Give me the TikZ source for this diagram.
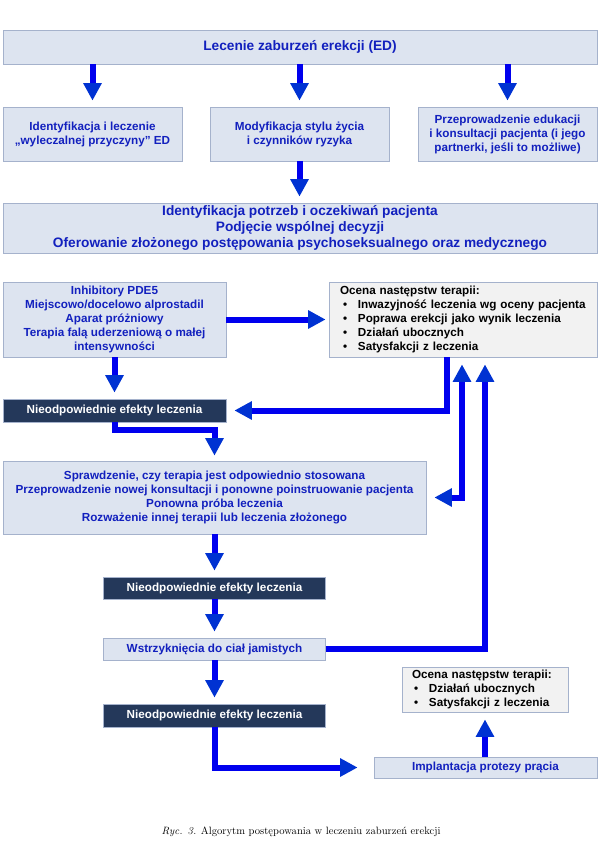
\documentclass[tikz,border=0pt]{standalone}
\usepackage{fontspec}
\setsansfont{Liberation Sans}
\usetikzlibrary{arrows.meta}
\definecolor{boxfill}{RGB}{221,228,240}
\definecolor{boxdraw}{RGB}{165,178,204}
\definecolor{txtblue}{RGB}{18,32,190}
\definecolor{arrc}{RGB}{0,0,238}
\definecolor{headc}{RGB}{0,50,210}
\definecolor{darkfill}{RGB}{36,56,90}
\definecolor{ocfill}{RGB}{242,242,242}
\begin{document}
\begin{tikzpicture}[x=1pt,y=-1pt,
  base/.style={font=\sffamily\bfseries\fontsize{11.7}{14}\selectfont, inner sep=0pt, line width=0.8pt, align=center},
  lbox/.style={base, fill=boxfill, draw=boxdraw, text=txtblue},
  dbox/.style={base, fill=darkfill, draw=boxdraw, text=white},
  obox/.style={base, fill=ocfill, draw=boxdraw, text=black, align=left},
  bigfont/.style={font=\sffamily\bfseries\fontsize{13.7}{16}\selectfont},
  arr/.style={draw=arrc, line width=6pt, line join=miter, -{Triangle[width=17.5pt,length=17.5pt,color=headc]}},
  arrtwo/.style={draw=arrc, line width=6pt, line join=miter, {Triangle[width=17.5pt,length=17.5pt,color=headc]}-{Triangle[width=17.5pt,length=17.5pt,color=headc]}}
]
\useasboundingbox[fill=white] (0,0) rectangle (600,865);

\node[lbox,bigfont,minimum width=594,minimum height=33.5] (top) at (300,47.3) {Lecenie zaburzeń erekcji (ED)};
\node[lbox,minimum width=179,minimum height=54] (b1) at (92.5,134) {Identyfikacja i leczenie\\„wyleczalnej przyczyny” ED};
\node[lbox,minimum width=179,minimum height=54] (b2) at (299.5,134) {Modyfikacja stylu życia\\i czynników ryzyka};
\node[lbox,minimum width=179,minimum height=54] (b3) at (507.5,134) {Przeprowadzenie edukacji\\i konsultacji pacjenta (i jego\\partnerki, jeśli to możliwe)};
\node[lbox,bigfont,minimum width=594,minimum height=50] (big) at (300,228) {Identyfikacja potrzeb i oczekiwań pacjenta\\Podjęcie wspólnej decyzji\\Oferowanie złożonego postępowania psychoseksualnego oraz medycznego};
\node[lbox,minimum width=223,minimum height=75] (inh) at (114.5,319.5) {Inhibitory PDE5\\Miejscowo/docelowo alprostadil\\Aparat próżniowy\\Terapia falą uderzeniową o małej\\intensywności};
\node[obox,inner xsep=11pt,text width=246pt,minimum height=75] (oc1) at (463,319.5) {Ocena następstw terapii:\\
\hspace*{3pt}\makebox[15pt][l]{\textbullet}Inwazyjność leczenia wg oceny pacjenta\\
\hspace*{3pt}\makebox[15pt][l]{\textbullet}Poprawa erekcji jako wynik leczenia\\
\hspace*{3pt}\makebox[15pt][l]{\textbullet}Działań ubocznych\\
\hspace*{3pt}\makebox[15pt][l]{\textbullet}Satysfakcji z leczenia};
\node[dbox,minimum width=223,minimum height=23] (nd1) at (114.5,410.5) {Nieodpowiednie efekty leczenia};
\node[lbox,minimum width=423,minimum height=73] (spr) at (214.5,497.5) {Sprawdzenie, czy terapia jest odpowiednio stosowana\\Przeprowadzenie nowej konsultacji i ponowne poinstruowanie pacjenta\\Ponowna próba leczenia\\Rozważenie innej terapii lub leczenia złożonego};
\node[dbox,minimum width=222,minimum height=22] (nd2) at (214.5,588) {Nieodpowiednie efekty leczenia};
\node[lbox,minimum width=222,minimum height=22] (wst) at (214.5,649) {Wstrzyknięcia do ciał jamistych};
\node[dbox,minimum width=222,minimum height=23] (nd3) at (214.5,715.5) {Nieodpowiednie efekty leczenia};
\node[obox,inner xsep=10pt,text width=146pt,minimum height=45] (oc2) at (485,689.5) {Ocena następstw terapii:\\
\hspace*{2pt}\makebox[15pt][l]{\textbullet}Działań ubocznych\\
\hspace*{2pt}\makebox[15pt][l]{\textbullet}Satysfakcji z leczenia};
\node[lbox,minimum width=223,minimum height=21] (imp) at (485.5,767.5) {Implantacja protezy prącia};
\node[font=\fontsize{10.6}{12}\selectfont, text=black, inner sep=0pt] (cap) at (301,832) {\textit{Ryc. 3.} Algorytm postępowania w leczeniu zaburzeń erekcji};

\draw[arr, shorten >=6pt] (top.south -| b1.north) -- (b1.north);
\draw[arr, shorten >=6pt] (top.south -| b2.north) -- (b2.north);
\draw[arr, shorten >=6pt] (top.south -| b3.north) -- (b3.north);
\draw[arr, shorten >=6pt] (b2.south) -- (b2.south |- big.north);
\draw[arr, shorten >=3pt] (inh.east) -- (oc1.west);
\draw[arr, shorten >=6pt] (inh.south) -- (nd1.north);
\draw[arr, shorten >=8pt] ([xshift=-16pt]oc1.south) |- (nd1.east);
\draw[arr, shorten >=5pt] (nd1.south) -- ++(0,8) -| (spr.north);
\draw[arrtwo, shorten >=8pt] ([xshift=-1pt,yshift=-7pt]oc1.south) |- (spr.east);
\draw[arr] (wst.east) -| ([xshift=22pt,yshift=-7pt]oc1.south);
\draw[arr, shorten >=6pt] (spr.south) -- (nd2.north);
\draw[arr, shorten >=6pt] (nd2.south) -- (wst.north);
\draw[arr, shorten >=6pt] (wst.south) -- (nd3.north);
\draw[arr, shorten >=16pt] (nd3.south) |- (imp.west);
\draw[arr, shorten >=7pt] (imp.north -| oc2.south) -- (oc2.south);
\end{tikzpicture}
\end{document}
